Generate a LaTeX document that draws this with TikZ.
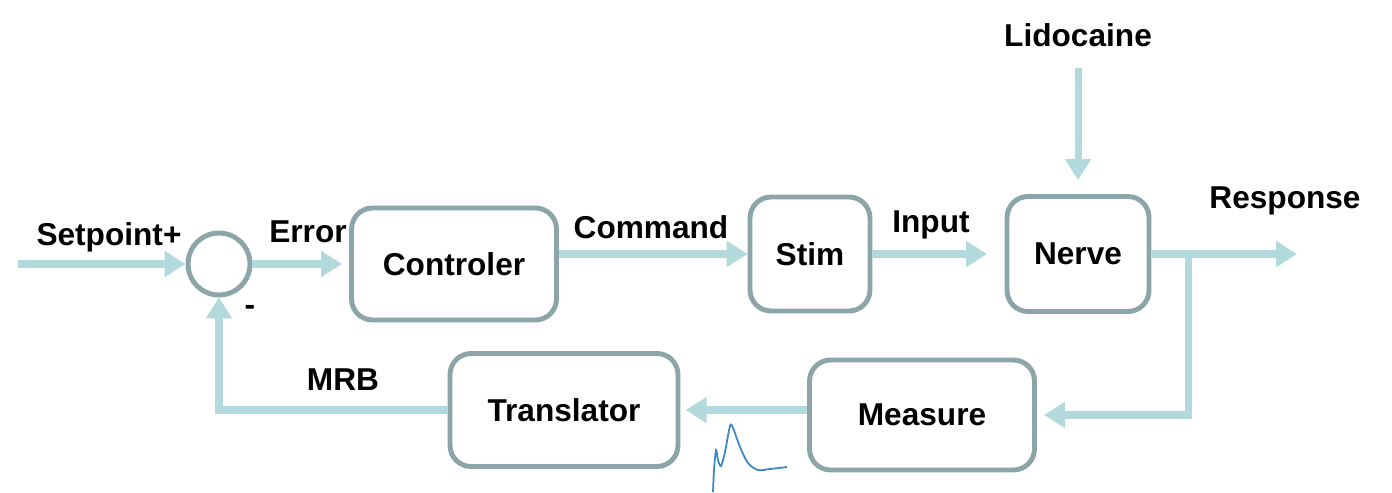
\documentclass[tikz,border=0pt]{standalone}
\usepackage{fontspec}
\setmainfont{Liberation Sans}
\usepackage{xcolor}
\usepackage{tikz}
\usetikzlibrary{arrows.meta,positioning}
\definecolor{flow}{HTML}{B2DADD}
\definecolor{frame}{HTML}{8CA5A8}
\definecolor{trace}{HTML}{3A86C8}

\begin{document}
\begin{tikzpicture}[
  x=0.02cm,y=-0.02cm,
  box/.style={draw=frame,line width=2.8pt,rounded corners=0.42cm,fill=white,align=center,font=\fontsize{18}{20}\selectfont\bfseries},
  sum/.style={draw=frame,line width=2.8pt,circle,minimum size=1.24cm,inner sep=0pt},
  lbl/.style={font=\fontsize{18}{20}\selectfont\bfseries,inner sep=0pt},
  line/.style={-{Triangle[length=0.42cm,width=0.5cm]},line width=4pt,draw=flow},
  wave/.style={draw=trace,line width=1pt}
]
\useasboundingbox (0,0) rectangle (1392,493);
% blocks
\node[sum] (sum) at (219,264) {};
\node[box,minimum width=4.1cm,minimum height=2.24cm] (ctrl) at (454,264) {Controler};
\node[box,minimum width=2.4cm,minimum height=2.28cm] (stim) at (810,254) {Stim};
\node[box,minimum width=2.84cm,minimum height=2.3cm] (nerve) at (1078,254) {Nerve};
\node[box,minimum width=4.5cm,minimum height=2.2cm] (meas) at (922,415) {Measure};
\node[box,minimum width=4.56cm,minimum height=2.26cm] (trans) at (564,410) {Translator};
% labels
\node[lbl] (lido) at (1078,35) {Lidocaine};
\node[lbl] at (109,237) {Setpoint+};
\node[lbl] at (308,232) {Error};
\node[lbl] at (651,227) {Command};
\node[lbl] at (931,225) {Input};
\node[lbl] at (1285,201) {Response};
\node[lbl] at (343,380) {MRB};
\node[lbl] at (250,310) {-};
\coordinate (in) at (18,264);
\coordinate (out) at (1297,254);
\coordinate (br) at (1188,254);
% connectors
\draw[line] (in)--(sum);
\draw[line,shorten >=4] (sum)--(ctrl);
\draw[line] (ctrl.east |- stim.west)--(stim);
\draw[line,shorten >=10] (stim)--(nerve);
\draw[line,shorten <=12,shorten >=8] (lido)--(nerve);
\draw[line] (nerve)--(out);
\draw[line,shorten >=4] (br)|-(meas.east);
\draw[line,shorten >=3] (meas.west |- trans)--(trans);
\draw[line] (trans.west)-|(sum.south);
% recorded trace
\draw[wave] plot[smooth,tension=0.5] coordinates {(713,492) (714,470) (716,450) (718,460) (721,466) (725,452) (730,426) (733,428) (740,447) (748,463) (758,470) (770,469) (787,467)};
\end{tikzpicture}
\end{document}
